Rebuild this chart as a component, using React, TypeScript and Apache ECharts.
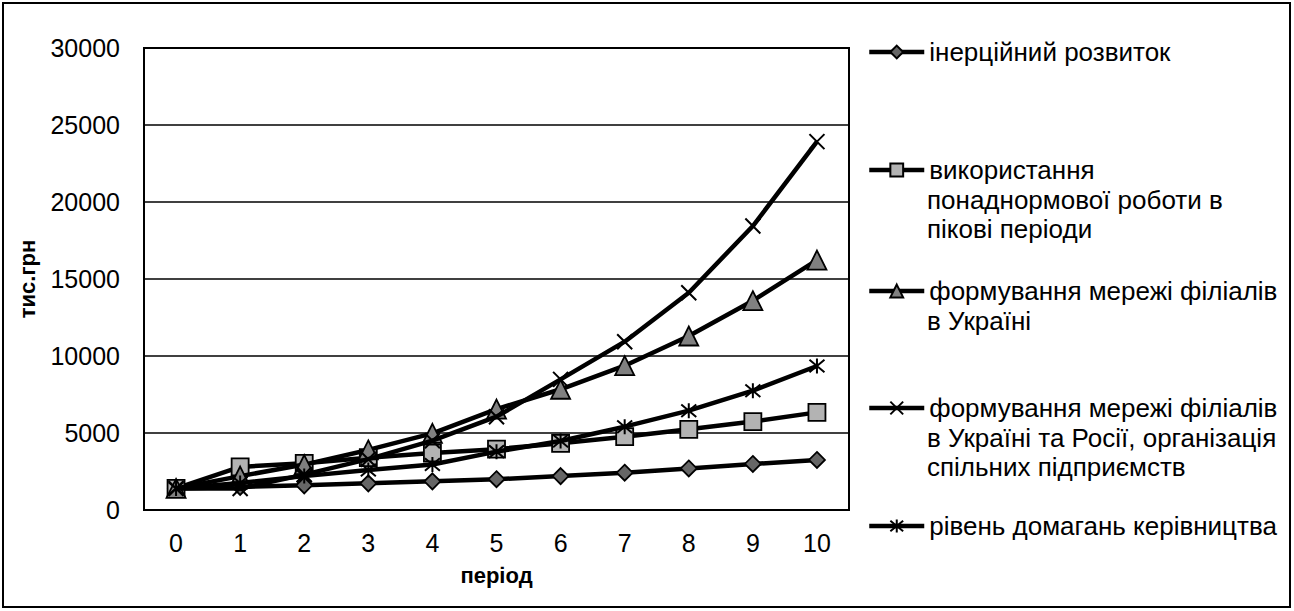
import React, { useEffect, useRef } from "react";
import * as echarts from "echarts";

const periods = ["0", "1", "2", "3", "4", "5", "6", "7", "8", "9", "10"];

const inertial = [1400, 1500, 1600, 1730, 1860, 2000, 2200, 2420, 2700, 2990, 3250];
const overtime = [1400, 2800, 3030, 3400, 3700, 3950, 4330, 4760, 5240, 5740, 6340];
const branchesUA = [1400, 2200, 2950, 3900, 4980, 6550, 7840, 9370, 11300, 13590, 16230];
const branchesUARU = [1400, 1400, 2300, 3300, 4500, 6060, 8480, 10930, 14110, 18440, 23920];
const ambitions = [1400, 1750, 2200, 2600, 2950, 3790, 4480, 5410, 6450, 7750, 9350];

const legendLines = [
  ["інерційний розвиток"],
  ["використання", "понаднормової роботи в", "пікові періоди"],
  ["формування мережі філіалів", "в Україні"],
  ["формування мережі філіалів", "в Україні та Росії, організація", "спільних підприємств"],
  ["рівень домагань керівництва"],
];

const yTicks = { min: 0, max: 30000, interval: 5000 };

const FONT = "'Liberation Sans', Arial, sans-serif";
const X_PATH = "path://M0 0L10 10M10 0L0 10";
const STAR_PATH = "path://M0 0L10 10M10 0L0 10M5 -1L5 11";

export default function App() {
  const ref = useRef<HTMLDivElement>(null);
  useEffect(() => {
    if (!ref.current) return;
    const chart = echarts.init(ref.current, undefined, { renderer: "svg" });
    const names = legendLines.map((l) => l.join(" "));
    const values = [inertial, overtime, branchesUA, branchesUARU, ambitions];
    const symbols = ["diamond", "rect", "triangle", X_PATH, STAR_PATH];
    const sizes = [16, 17, 19, 15, 15];
    const fills = ["#666666", "#b3b3b3", "#808080", "#000", "#000"];
    const iconY = [51, 169, 290, 407, 525];

    const series = values.map((v, i) => ({
      type: "line",
      name: names[i],
      data: v,
      symbol: symbols[i],
      symbolSize: sizes[i],
      showAllSymbol: true,
      lineStyle: { color: "#000", width: 4.5 },
      itemStyle: {
        color: fills[i],
        borderColor: "#000",
        borderWidth: i >= 3 ? 2 : 1.8,
      },
      emphasis: { disabled: true },
      z: 2 + i,
    }));

    const legends = names.map((n, i) => ({
      data: [n],
      left: 867,
      top: iconY[i] - 12,
      itemWidth: 55,
      itemHeight: 16,
      padding: 0,
      selectedMode: false,
      formatter: () => legendLines[i][0],
      lineStyle: { width: 4.5, color: "#000" },
      textStyle: { fontSize: 26, lineHeight: 26, color: "#000", fontFamily: FONT },
    }));

    const graphics: any[] = [
      {
        type: "rect",
        shape: { x: 3, y: 3, width: 1287, height: 604 },
        style: { fill: "none", stroke: "#000", lineWidth: 2 },
        silent: true,
      },
    ];
    legendLines.forEach((lines, i) => {
      lines.slice(1).forEach((t, k) => {
        graphics.push({
          type: "text",
          x: 927,
          y: iconY[i] + 1 + 29.5 * (k + 1),
          style: {
            text: t,
            fontSize: 26,
            lineHeight: 26,
            fontFamily: FONT,
            fill: "#000",
            verticalAlign: "middle",
            align: "left",
          },
          silent: true,
        });
      });
    });

    chart.setOption({
      animation: false,
      backgroundColor: "#fff",
      textStyle: { fontFamily: FONT },
      grid: {
        left: 144,
        right: 445,
        top: 48,
        bottom: 101,
        show: true,
        borderColor: "#000",
        borderWidth: 2,
        backgroundColor: "transparent",
      },
      legend: legends,
      xAxis: {
        type: "category",
        data: periods,
        boundaryGap: true,
        axisLine: { lineStyle: { color: "#000", width: 2 } },
        axisTick: { show: false },
        axisLabel: { fontSize: 25, color: "#000", margin: 20, fontFamily: FONT },
        name: "період",
        nameLocation: "middle",
        nameGap: 54,
        nameTextStyle: { fontSize: 22, fontWeight: "bold", color: "#000", fontFamily: FONT },
      },
      yAxis: {
        type: "value",
        min: yTicks.min,
        max: yTicks.max,
        interval: yTicks.interval,
        axisLine: { show: true, lineStyle: { color: "#000", width: 2 } },
        axisTick: { show: false },
        splitLine: { lineStyle: { color: "#000", width: 1.5 } },
        axisLabel: {
          fontSize: 25,
          color: "#000",
          margin: 24,
          fontFamily: FONT,
          formatter: (v: number) => String(v),
        },
        name: "тис.грн",
        nameLocation: "middle",
        nameGap: 106,
        nameRotate: 90,
        nameTextStyle: { fontSize: 22, fontWeight: "bold", color: "#000", fontFamily: FONT },
      },
      series,
      graphic: graphics,
    });
    return () => chart.dispose();
  }, []);
  return (
    <div
      ref={ref}
      style={{ position: "absolute", left: 0, top: 0, width: 1294, height: 611 }}
    />
  );
}
